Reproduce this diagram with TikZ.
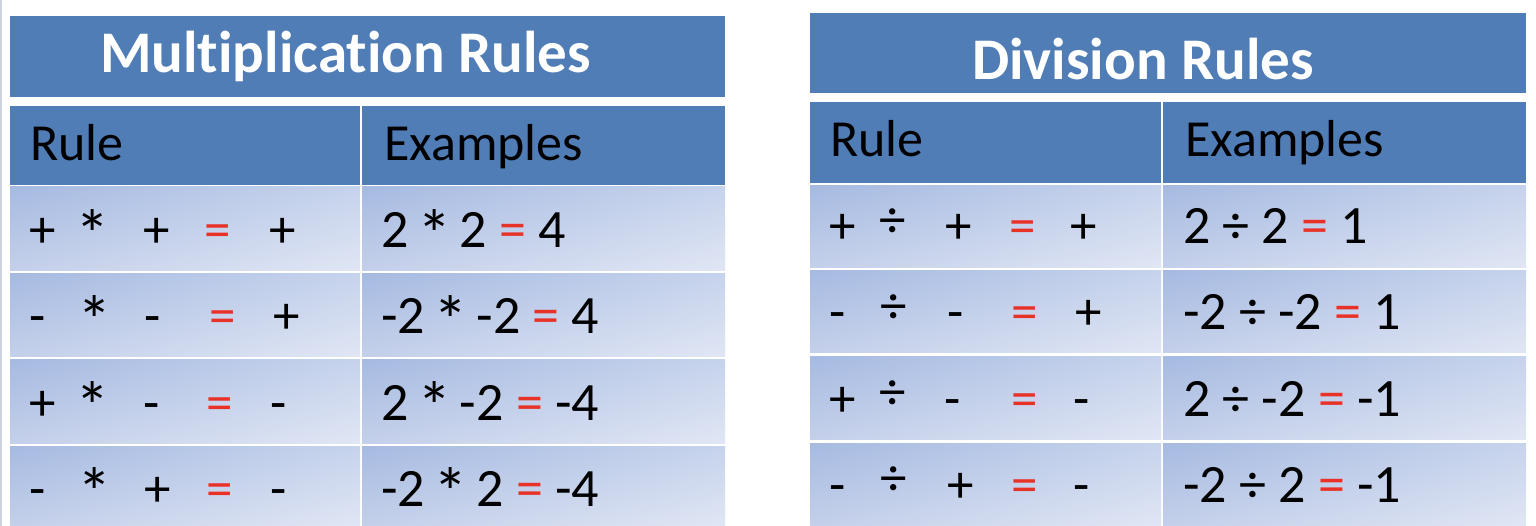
\documentclass[tikz,border=0pt]{standalone}
\usepackage{fontspec}
\setmainfont[Ligatures={NoCommon}]{Carlito}
\usetikzlibrary{shadings}
\definecolor{hdrblue}{RGB}{80,125,182}
\definecolor{eqred}{RGB}{232,50,40}
\definecolor{cUL}{RGB}{166,186,225}
\definecolor{cUR}{RGB}{198,211,236}
\definecolor{cLL}{RGB}{196,208,234}
\definecolor{cLR}{RGB}{224,230,244}
\definecolor{edgegray}{RGB}{205,210,222}
\tikzset{
  bandfill/.style={fill=hdrblue},
  bodycell/.style={upper left=cUL, upper right=cUR, lower left=cLL, lower right=cLR},
  titletext/.style={anchor=base west, inner sep=0pt, text=black, font=\fontsize{59}{61}\selectfont\bfseries, text=white},
  headtext/.style={anchor=base west, inner sep=0pt, text=black, font=\fontsize{52}{54}\selectfont},
  extext/.style={anchor=base west, inner sep=0pt, text=black, font=\fontsize{54}{56}\selectfont},
  symtext/.style={anchor=base, inner sep=0pt, text=black, font=\fontsize{53}{55}\selectfont},
}
\newcommand{\redeq}{\textcolor{eqred}{=}}
\newcommand{\bigast}{\makebox[0.5em][c]{\smash{\raisebox{-0.2em}{\fontsize{69}{70}\selectfont *}}}}
\newcommand{\hidiv}{\smash{\raisebox{0.13em}{÷}}}
\newcommand{\symrow}[3]{%
  \foreach \xx/\ss [count=\ii] in {#3} {\node[symtext] (#1-\ii) at (\xx,#2) {\ss};}%
}
\begin{document}
\begin{tikzpicture}[x=1pt,y=-1pt]
\useasboundingbox (0,0) rectangle (1536,526);
\fill[white] (0,0) rectangle (1536,526);
\draw[edgegray, line width=1.5pt] (1,0) -- (1,526);

% ---------------- Left table: Multiplication ----------------
\fill[bandfill] (10,16) rectangle (725,97);
\fill[bandfill] (10,106) rectangle (360,185);
\fill[bandfill] (362,106) rectangle (725,185);
\foreach \ya/\yb in {187/271, 274/357, 360/443, 446/526} {
  \shade[bodycell] (10,\ya) rectangle (360,\yb);
  \shade[bodycell] (362,\ya) rectangle (725,\yb);
}
\node[titletext] (mtitle) at (100,73) {Multiplication Rules};
\node[headtext] (mrule) at (30,161) {Rule};
\node[headtext] (mex) at (384,161) {Examples};

\symrow{m1}{248}{43/+, 93/\bigast, 157/+, 218/\redeq, 283/+}
\symrow{m2}{334}{38/-, 95/\bigast, 153/-, 223/\redeq, 287/+}
\symrow{m3}{420}{43/+, 93/\bigast, 152/-, 220/\redeq, 279/-}
\symrow{m4}{506}{38/-, 95/\bigast, 158/+, 220/\redeq, 279/-}

\node[extext] (mex1) at (381,248) {2 \bigast{} 2 \redeq{} 4};
\node[extext] (mex2) at (381,334) {-2 \bigast{} -2 \redeq{} 4};
\node[extext] (mex3) at (381,420) {2 \bigast{} -2 \redeq{} -4};
\node[extext] (mex4) at (381,506) {-2 \bigast{} 2 \redeq{} -4};

% ---------------- Right table: Division ----------------
\fill[bandfill] (810,13) rectangle (1526,93);
\fill[bandfill] (810,102) rectangle (1161,183);
\fill[bandfill] (1163,102) rectangle (1526,183);
\foreach \ya/\yb in {186/268, 271/353, 357/439, 443/526} {
  \shade[bodycell] (810,\ya) rectangle (1161,\yb);
  \shade[bodycell] (1163,\ya) rectangle (1526,\yb);
}
\node[titletext] (dtitle) at (972,80) {Division Rules};
\node[headtext] (drule) at (830,157) {Rule};
\node[headtext] (dex) at (1185,157) {Examples};

\symrow{d1}{244}{843/+, 893/\hidiv, 959/+, 1023/\redeq, 1084/+}
\symrow{d2}{330}{838/-, 894/\hidiv, 956/-, 1025/\redeq, 1089/+}
\symrow{d3}{416}{843/+, 893/\hidiv, 953/-, 1025/\redeq, 1082/-}
\symrow{d4}{502}{838/-, 894/\hidiv, 961/+, 1025/\redeq, 1082/-}

\node[extext] (dex1) at (1183,244) {2 ÷ 2 \redeq{} 1};
\node[extext] (dex2) at (1183,330) {-2 ÷ -2 \redeq{} 1};
\node[extext] (dex3) at (1183,416) {2 ÷ -2 \redeq{} -1};
\node[extext] (dex4) at (1183,502) {-2 ÷ 2 \redeq{} -1};
\end{tikzpicture}
\end{document}
